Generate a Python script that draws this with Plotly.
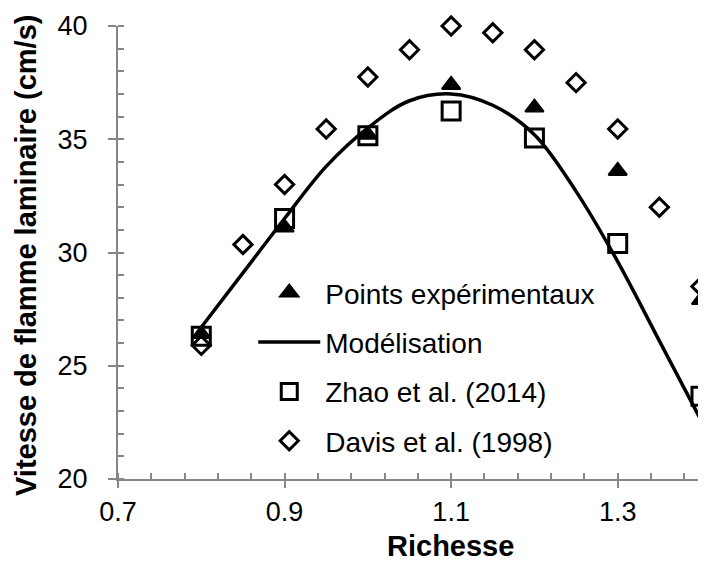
import plotly.graph_objects as go

# Data
x_exp = [0.8, 0.9, 1.0, 1.1, 1.2, 1.3, 1.4]
y_exp = [26.4, 31.1, 35.2, 37.4, 36.4, 33.6, 27.9]

x_model = [0.8, 0.85, 0.9, 0.95, 1.0, 1.05, 1.1, 1.15, 1.2, 1.25, 1.3, 1.35, 1.4]
y_model = [26.7, 29.1, 31.5, 33.8, 35.5, 36.7, 37.0, 36.5, 35.2, 32.7, 29.6, 26.1, 22.6]

x_zhao = [0.8, 0.9, 1.0, 1.1, 1.2, 1.3, 1.4]
y_zhao = [26.3, 31.5, 35.15, 36.25, 35.05, 30.4, 23.65]

x_davis = [0.8, 0.85, 0.9, 0.95, 1.0, 1.05, 1.1, 1.15, 1.2, 1.25, 1.3, 1.35, 1.4]
y_davis = [25.9, 30.35, 33.0, 35.45, 37.75, 38.95, 40.0, 39.7, 38.95, 37.5, 35.45, 32.0, 28.5]

x_ticks = [0.7, 0.9, 1.1, 1.3]
y_ticks = [20, 25, 30, 35, 40]

names = ["Points expérimentaux", "Modélisation", "Zhao et al. (2014)", "Davis et al. (1998)"]

FONT = "Liberation Sans, Arial, sans-serif"
AXC = "#868686"

# page body has an 8px margin: figure occupies 8..706 x 8..561
W, H = 698, 553
L, T = 110, 18
PW = 693 - L          # plot width
PH = 471 - T          # plot height

fig = go.Figure()
fig.add_trace(go.Scatter(
    x=x_exp, y=y_exp, mode="markers", name=names[0], legendgroup="a",
    marker=dict(symbol="triangle-up", size=16, color="black",
                line=dict(color="black", width=2)),
    cliponaxis=False))
fig.add_trace(go.Scatter(
    x=x_model, y=y_model, mode="lines", name=names[1], legendgroup="b",
    line=dict(color="black", width=3.5, shape="spline", smoothing=1.0),
    cliponaxis=False))
fig.add_trace(go.Scatter(
    x=x_zhao, y=y_zhao, mode="markers", name=names[2], legendgroup="c",
    marker=dict(symbol="square-open", size=18, color="black",
                line=dict(color="black", width=3)),
    cliponaxis=False))
fig.add_trace(go.Scatter(
    x=x_davis, y=y_davis, mode="markers", name=names[3], legendgroup="d",
    marker=dict(symbol="diamond-open", size=14, color="black",
                line=dict(color="black", width=3)),
    cliponaxis=False))

fig.update_layout(
    width=W, height=H,
    margin=dict(l=L, r=W - L - PW, t=T, b=H - T - PH, autoexpand=False),
    paper_bgcolor="white", plot_bgcolor="white",
    font=dict(family=FONT, size=27, color="black"),
    showlegend=True,
    legend=dict(x=0.232, y=0.466, xanchor="left", yanchor="top",
                bgcolor="rgba(0,0,0,0)", font=dict(size=28, family=FONT),
                itemwidth=62, tracegroupgap=10, traceorder="grouped"),
    xaxis=dict(range=[0.7, 1.4], tickvals=x_ticks, ticktext=[f"{v:.1f}" for v in x_ticks],
               showgrid=False, zeroline=False, showline=True, linecolor=AXC, linewidth=2,
               ticks="outside", ticklen=7, tickwidth=2, tickcolor=AXC,
               ticklabelstandoff=1,
               tickfont=dict(size=27, family=FONT, color="black"),
               minor=dict(ticks="inside", dtick=0.04, tick0=0.7, ticklen=6,
                          tickwidth=1.5, tickcolor=AXC, showgrid=False)),
    yaxis=dict(range=[20, 40], tickvals=y_ticks,
               showgrid=False, zeroline=False, showline=True, linecolor=AXC, linewidth=2,
               ticks="outside", ticklen=8, tickwidth=2, tickcolor=AXC,
               ticklabelstandoff=15,
               tickfont=dict(size=27, family=FONT, color="black"),
               minor=dict(ticks="inside", dtick=1, tick0=20, ticklen=6,
                          tickwidth=1.5, tickcolor=AXC, showgrid=False)),
    xaxis2=dict(range=[0.7, 1.4], overlaying="x", anchor="y", side="bottom",
                tickvals=x_ticks, showticklabels=False, showgrid=False, zeroline=False,
                showline=False, ticks="inside", ticklen=7, tickwidth=2, tickcolor=AXC),
    yaxis2=dict(range=[20, 40], overlaying="y", anchor="x", side="left",
                tickvals=y_ticks, showticklabels=False, showgrid=False, zeroline=False,
                showline=False, ticks="inside", ticklen=8, tickwidth=2, tickcolor=AXC),
    annotations=[
        dict(text="<b>Richesse</b>", xref="paper", yref="paper",
             x=(450 - 118) / PW, y=(479 - 546) / PH, xanchor="center", yanchor="middle",
             showarrow=False, font=dict(size=29, family=FONT, color="black")),
        dict(text="<b>Vitesse de flamme laminaire (cm/s)</b>", xref="paper", yref="paper",
             x=(26 - 118) / PW, y=(479 - 256) / PH, xanchor="center", yanchor="middle",
             textangle=-90, showarrow=False,
             font=dict(size=29, family=FONT, color="black")),
    ],
)

fig.write_html("out.html")
